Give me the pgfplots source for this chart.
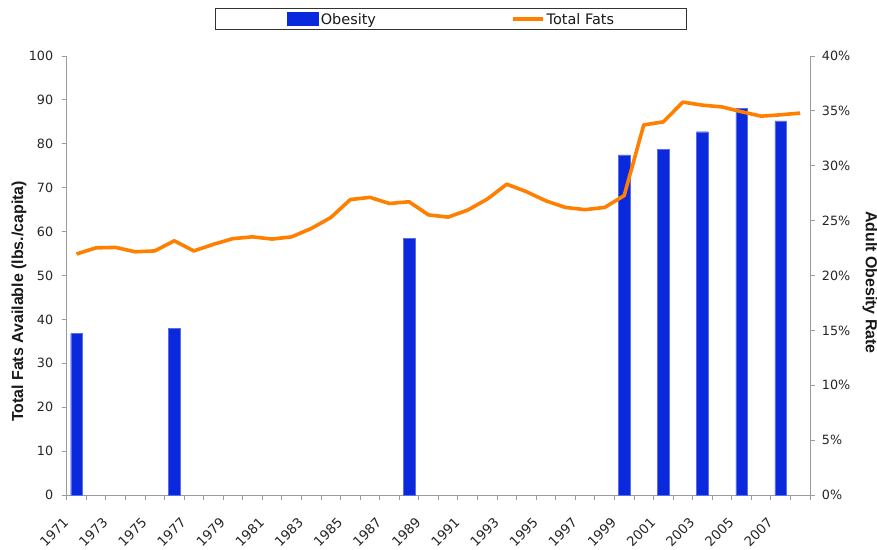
\documentclass[border=0pt]{standalone}
\usepackage{pgfplots}
\pgfplotsset{compat=1.18}
\usepackage{fontspec}
\setmainfont{DejaVu Sans}
\newfontfamily\titlefont{Liberation Sans}
\definecolor{obblue}{RGB}{10,40,220}
\definecolor{obedge}{RGB}{90,110,235}
\definecolor{fatorange}{RGB}{255,128,0}
\definecolor{axgray}{RGB}{155,155,155}
\pgfplotstableread{
year fats
1971 54.9
1972 56.3
1973 56.4
1974 55.4
1975 55.6
1976 57.9
1977 55.6
1978 57.1
1979 58.4
1980 58.8
1981 58.3
1982 58.8
1983 60.7
1984 63.2
1985 67.3
1986 67.8
1987 66.4
1988 66.8
1989 63.8
1990 63.3
1991 64.9
1992 67.4
1993 70.8
1994 69.1
1995 67.0
1996 65.5
1997 65.0
1998 65.5
1999 68.2
2000 84.3
2001 85.0
2002 89.5
2003 88.8
2004 88.4
2005 87.3
2006 86.3
2007 86.6
2008 87.0
}\fatstable
\pgfplotstableread{
year obesity
1971 14.7
1976 15.2
1988 23.4
1999 31.0
2001 31.5
2003 33.1
2005 35.2
2007 34.1
}\obtable
\pgfplotsset{
  common/.style={
    width=743.3bp, height=439bp, scale only axis,
    xmin=1970.5, xmax=2008.5, ymin=0,
    /pgf/number format/assume math mode=true,
    /pgf/number format/1000 sep={},
    tick align=outside, major tick length=5bp, minor tick length=5bp,
    axis line style={draw=axgray, line width=0.8bp},
    tick style={draw=axgray, line width=0.8bp},
    tick label style={font=\fontsize{12.8}{14}\selectfont, text=black!85},
  },
}
\begin{document}
\begin{tikzpicture}
\useasboundingbox (-66.7bp,-55bp) rectangle (810.3bp,495bp);
% bars, right axis
\begin{axis}[common,
  ymax=40,
  axis y line*=right, axis x line*=bottom,
  ytick={0,5,...,40},
  yticklabel={\pgfmathprintnumber{\tick}\%},
  yticklabel style={anchor=west, inner sep=0pt, xshift=6.7bp},
  xtick={1971,1973,...,2007},
  minor xtick={1970.5,1971.5,...,2008.5},
  major x tick style={draw=none},
  xticklabel style={xshift=-14bp, yshift=-16bp, rotate=45, anchor=north east, inner sep=0pt,
    font=\fontsize{13.3}{14}\selectfont},
  ylabel={Adult Obesity Rate},
  every axis y label/.style={at={(axis description cs:1,0.5)}, xshift=60bp, yshift=-7bp, rotate=-90, anchor=center,
    font=\titlefont\bfseries\fontsize{16}{18}\selectfont, text=black!90},
  ybar, bar width=11.5bp,
]
\addplot[fill=obblue, draw=obedge, line width=0.4bp] table[x=year, y=obesity] {\obtable};
\end{axis}
% line, left axis
\begin{axis}[common,
  ymax=100,
  axis y line*=left, hide x axis,
  ytick={0,10,...,100},
  yticklabel style={anchor=east, inner sep=0pt, xshift=-8.3bp},
  ylabel={Total Fats Available (lbs./capita)},
  every axis y label/.style={at={(axis description cs:0,0.5)}, xshift=-47.7bp, yshift=-26bp, rotate=90, anchor=center,
    font=\titlefont\bfseries\fontsize{16}{18}\selectfont, text=black!90},
  legend columns=2,
  legend style={at={(0.5173,1.1093)}, anchor=north, draw=black!80, line width=0.8bp,
    inner xsep=71bp, inner ysep=3.5bp,
    font=\fontsize{14.5}{16}\selectfont, text=black!90,
    nodes={inner xsep=1.7bp, inner ysep=0bp, text height=12.5bp, text depth=0.5bp},
    /tikz/every even column/.append style={column sep=133bp}},
]
\addlegendimage{legend image code/.code={\fill[obblue] (0bp,-6.6bp) rectangle (31.7bp,6.6bp);}}
\addlegendentry{Obesity}
\addplot[fatorange, line width=3.6bp, line join=round, mark=none,
  legend image code/.code={\draw[fatorange, line width=3.6bp] (0bp,0bp) -- (30.7bp,0bp);}]
  table[x=year, y=fats] {\fatstable};
\addlegendentry{Total Fats}
\end{axis}
\end{tikzpicture}
\end{document}
